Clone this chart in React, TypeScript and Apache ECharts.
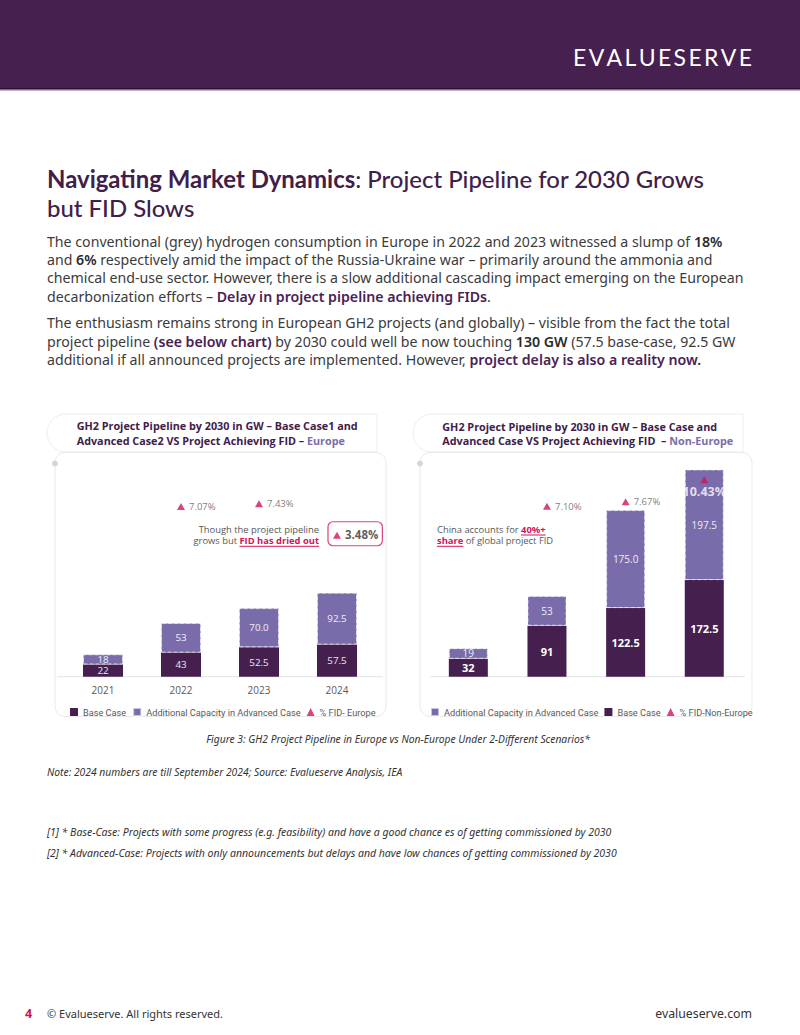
import React, { useEffect, useRef } from "react";
import * as echarts from "echarts";

// Pipeline by 2030 (GW) per year, Europe and Non-Europe; label strings keep their printed precision
const years = ["2021", "2022", "2023", "2024"];
const europeBase = ["22", "43", "52.5", "57.5"];
const europeAdditional = ["18", "53", "70.0", "92.5"];
const europeFid: (number | null)[] = [null, 7.07, 7.43, 3.48];
const nonEuropeBase = ["32", "91", "122.5", "172.5"];
const nonEuropeAdditional = ["19", "53", "175.0", "197.5"];
const nonEuropeFid: (number | null)[] = [null, 7.1, 7.67, 10.43];

const BASE = "#45204f";
const ADD = "#7a6cab";
const PINK = "#d1145a";
const GREY = "#595959";
const BODY = "#3b3b3b";
const CHART_FONT = "Open Sans";
const LEGEND_FONT = "Roboto";
const BODY_FONT = "Noto Sans";
const TITLE_FONT = "Lato";

const ctx = typeof document !== "undefined" ? document.createElement("canvas").getContext("2d") : null;
const measure = (text: string, font: string) => {
  if (!ctx) return text.length * 6;
  ctx.font = font;
  return ctx.measureText(text).width;
};

const bodyLines: [string, string][][] = [
  [["n", "The conventional (grey) hydrogen consumption in Europe in 2022 and 2023 witnessed a slump of "], ["s", "18%"]],
  [["n", "and "], ["s", "6%"], ["n", " respectively amid the impact of the Russia-Ukraine war – primarily around the ammonia and"]],
  [["n", "chemical end-use sector. However, there is a slow additional cascading impact emerging on the European"]],
  [["n", "decarbonization efforts – "], ["p", "Delay in project pipeline achieving FIDs"], ["n", "."]],
  [["n", "The enthusiasm remains strong in European GH2 projects (and globally) – visible from the fact the total"]],
  [["n", "project pipeline "], ["p", "(see below chart)"], ["n", " by 2030 could well be now touching "], ["s", "130 GW"], ["n", " (57.5 base-case, 92.5 GW"]],
  [["n", "additional if all announced projects are implemented. However, "], ["p", "project delay is also a reality now."]],
];
const bodyY = [241, 259.3, 277.6, 296, 322.5, 341, 359.5];

const LOGO = "EVALUESERVE";

export default function App() {
  const ref = useRef<HTMLDivElement>(null);

  useEffect(() => {
    if (!ref.current) return;
    const chart = echarts.init(ref.current, null, { renderer: "svg" });

    // body size fitted so the widest paragraph line fills the text column
    const bodySize = Math.min(15, (14 * 697) / measure(bodyLines[2][0][1], `14px "${BODY_FONT}"`));
    const esc = (s: string) => s.replace(/[{}|]/g, "");

    const bodyTexts = bodyLines.map((segs, i) => ({
      type: "text",
      x: 47,
      y: bodyY[i],
      style: {
        text: segs.map(([k, t]) => `{${k}|${esc(t)}}`).join(""),
        verticalAlign: "middle",
        align: "left",
        rich: {
          n: { fontFamily: BODY_FONT, fontSize: bodySize, fill: BODY },
          s: { fontFamily: BODY_FONT, fontSize: bodySize, fill: "#2a2a2a", fontWeight: 600 },
          p: { fontFamily: BODY_FONT, fontSize: bodySize, fill: "#4a2155", fontWeight: 600 },
        },
      },
    }));

    // title size fitted to the first title line
    const t1 = "Navigating Market Dynamics";
    const t2 = ": Project Pipeline for 2030 Grows";
    const tw = measure(t1, `bold 26px "${TITLE_FONT}"`) + measure(t2, `500 26px "${TITLE_FONT}"`);
    const titleSize = (26 * 658) / tw;

    // spaced wordmark spanning 573..752
    const logoFont = `23px "${TITLE_FONT}"`;
    const letterW = LOGO.split("").map((c) => measure(c, logoFont));
    const logoGap = (179 - letterW.reduce((a, b) => a + b, 0)) / (LOGO.length - 1);
    let lx = 573;
    const logoLetters = LOGO.split("").map((c, i) => {
      const el = {
        type: "text",
        x: lx,
        y: 57,
        style: { text: c, fill: "#ffffff", font: logoFont, align: "left", verticalAlign: "middle" },
      };
      lx += letterW[i] + logoGap;
      return el;
    });

    // annotation underline geometry
    const ANN = 9.4;
    const annFont = `${ANN}px "${CHART_FONT}"`;
    const annBold = `bold ${ANN}px "${CHART_FONT}"`;
    const euRight = 319;
    const driedW = measure("FID has dried out", annBold);
    const chinaX = 437;
    const chinaW = measure("China accounts for ", annFont);
    const fortyW = measure("40%+", annBold);
    const shareW = measure("share", annBold);
    const annRich = {
      n: { fontFamily: CHART_FONT, fontSize: ANN, fill: GREY },
      p: { fontFamily: CHART_FONT, fontSize: ANN, fontWeight: "bold", fill: PINK },
    };

    const card = (tx: number, cx: number, cw: number) => [
      {
        type: "rect",
        shape: { x: tx, y: 414, width: 330, height: 38, r: [19, 0, 0, 19] },
        style: { fill: "none", stroke: "#ededed", lineWidth: 1 },
      },
      {
        type: "rect",
        shape: { x: cx, y: 452.5, width: cw, height: 264, r: 10 },
        style: { fill: "#ffffff", stroke: "#e9e9e9", lineWidth: 1 },
      },
      { type: "circle", shape: { cx: cx, cy: 463.5, r: 3 }, style: { fill: "#d6d6d6" } },
    ];

    const barLabel = (strs: string[], color: string, bold: boolean, size: number) => ({
      show: true,
      position: "inside",
      color,
      fontSize: size,
      lineHeight: size - 1,
      fontWeight: bold ? "bold" : "normal",
      fontFamily: CHART_FONT,
      formatter: (p: any) => strs[p.dataIndex],
    });

    const fidLabel = {
      show: true,
      position: "right",
      distance: 4,
      color: GREY,
      fontSize: 9.5,
      fontFamily: CHART_FONT,
      formatter: (p: any) => `${Number(p.value).toFixed(2)}%`,
    };

    const europeFidData = europeFid.map((v, i) =>
      v == null
        ? "-"
        : i === europeFid.length - 1
        ? {
            value: v,
            label: {
              position: [-5, -10],
              align: "left",
              verticalAlign: "top",
              color: "#333333",
              fontWeight: "bold",
              fontSize: 11.5,
              lineHeight: 15,
              padding: [5, 4, 4, 17],
              borderColor: PINK,
              borderWidth: 1.2,
              borderRadius: 5,
            },
          }
        : v
    );
    const nonEuropeFidData = nonEuropeFid.map((v, i) =>
      v == null
        ? "-"
        : i === nonEuropeFid.length - 1
        ? {
            value: v,
            label: { position: "bottom", distance: 2, color: "#ffffff", fontWeight: "bold", fontSize: 12.5 },
          }
        : v
    );

    const legendText = { color: GREY, fontSize: 9.2, fontFamily: LEGEND_FONT };

    chart.setOption({
      animation: false,
      textStyle: { fontFamily: CHART_FONT },
      grid: [
        { left: 64, top: 452.7, width: 312, height: 224 },
        { left: 429, top: 452.7, width: 314.6, height: 224 },
      ],
      xAxis: [
        {
          type: "category",
          gridIndex: 0,
          data: years,
          axisLine: { show: false },
          axisTick: { show: false },
          axisLabel: { color: GREY, fontSize: 10, margin: 8, fontFamily: CHART_FONT },
        },
        {
          type: "category",
          gridIndex: 1,
          data: years,
          axisLine: { show: false },
          axisTick: { show: false },
          axisLabel: { show: false },
        },
      ],
      yAxis: [
        { type: "value", gridIndex: 0, min: 0, max: 400, show: false, splitLine: { show: false } },
        { type: "value", gridIndex: 0, min: -14.2, max: 13.8, show: false, splitLine: { show: false } },
        { type: "value", gridIndex: 1, min: 0, max: 400, show: false, splitLine: { show: false } },
        { type: "value", gridIndex: 1, min: -14.2, max: 13.8, show: false, splitLine: { show: false } },
      ],
      legend: [
        {
          left: 65,
          top: 702,
          itemWidth: 8,
          itemHeight: 8,
          itemGap: 6,
          textStyle: legendText,
          data: [
            { name: "Base Case", icon: "rect" },
            { name: "Additional Capacity in Advanced Case", icon: "rect" },
            { name: "% FID- Europe", icon: "triangle" },
          ],
        },
        {
          left: 425,
          top: 702,
          itemWidth: 8,
          itemHeight: 8,
          itemGap: 6,
          textStyle: legendText,
          data: [
            { name: "Additional Capacity in Advanced Case", icon: "rect" },
            { name: "Base Case", icon: "rect" },
            { name: "% FID-Non-Europe", icon: "triangle" },
          ],
        },
      ],
      series: [
        {
          name: "Base Case",
          type: "bar",
          xAxisIndex: 0,
          yAxisIndex: 0,
          stack: "eu",
          barWidth: 40,
          data: europeBase.map(Number),
          itemStyle: { color: BASE },
          label: barLabel(europeBase, "#ece4f0", false, 9.8),
        },
        {
          name: "Additional Capacity in Advanced Case",
          type: "bar",
          xAxisIndex: 0,
          yAxisIndex: 0,
          stack: "eu",
          barWidth: 40,
          data: europeAdditional.map(Number),
          itemStyle: { color: ADD, borderColor: "rgba(255,255,255,0.6)", borderWidth: 1, borderType: "dashed" },
          label: barLabel(europeAdditional, "#f1eef8", false, 9.8),
        },
        {
          name: "% FID- Europe",
          type: "scatter",
          xAxisIndex: 0,
          yAxisIndex: 1,
          symbol: "triangle",
          symbolSize: [8, 7],
          itemStyle: { color: PINK },
          label: fidLabel,
          data: europeFidData,
          z: 5,
        },
        {
          name: "Base Case",
          type: "bar",
          xAxisIndex: 1,
          yAxisIndex: 2,
          stack: "ne",
          barWidth: 39,
          data: nonEuropeBase.map(Number),
          itemStyle: { color: BASE },
          label: barLabel(nonEuropeBase, "#ffffff", true, 11),
        },
        {
          name: "Additional Capacity in Advanced Case",
          type: "bar",
          xAxisIndex: 1,
          yAxisIndex: 2,
          stack: "ne",
          barWidth: 39,
          data: nonEuropeAdditional.map(Number),
          itemStyle: { color: ADD, borderColor: "rgba(255,255,255,0.6)", borderWidth: 1, borderType: "dashed" },
          label: barLabel(nonEuropeAdditional, "#eeebf6", false, 10),
        },
        {
          name: "% FID-Non-Europe",
          type: "scatter",
          xAxisIndex: 1,
          yAxisIndex: 3,
          symbol: "triangle",
          symbolSize: [8, 7],
          itemStyle: { color: PINK },
          label: fidLabel,
          data: nonEuropeFidData,
          z: 5,
        },
      ],
      graphic: [
        // page header band
        { type: "rect", shape: { x: 0, y: 0, width: 800, height: 88 }, style: { fill: "#46204e" } },
        { type: "rect", shape: { x: 0, y: 88, width: 800, height: 1 }, style: { fill: "#2c0f33" } },
        { type: "rect", shape: { x: 0, y: 89, width: 800, height: 1.5 }, style: { fill: "#86688f" } },
        ...logoLetters,
        // heading
        {
          type: "text",
          x: 47,
          y: 178,
          style: {
            text: `{b|${t1}}{r|${t2}}`,
            verticalAlign: "middle",
            rich: {
              b: { fontFamily: TITLE_FONT, fontSize: titleSize, fontWeight: "bold", fill: "#40204a" },
              r: { fontFamily: TITLE_FONT, fontSize: titleSize, fontWeight: 500, fill: "#40204a" },
            },
          },
        },
        {
          type: "text",
          x: 47,
          y: 207,
          style: {
            text: "but FID Slows",
            verticalAlign: "middle",
            fontFamily: TITLE_FONT,
            fontSize: titleSize,
            fontWeight: 500,
            fill: "#40204a",
          },
        },
        ...bodyTexts,
        // chart cards
        ...card(47, 55, 331),
        ...card(413, 420, 332),
        {
          type: "text",
          x: 76.7,
          y: 433,
          style: {
            text: "{a|GH2 Project Pipeline by 2030 in GW – Base Case1 and}\n{a|Advanced Case2 VS Project Achieving FID – }{b|Europe}",
            verticalAlign: "middle",
            rich: {
              a: { fontFamily: CHART_FONT, fontSize: 10.8, fontWeight: "bold", fill: "#40204a", lineHeight: 14.5 },
              b: { fontFamily: CHART_FONT, fontSize: 10.8, fontWeight: "bold", fill: "#7a6cab", lineHeight: 14.5 },
            },
          },
        },
        {
          type: "text",
          x: 442.3,
          y: 433.5,
          style: {
            text: "{a|GH2 Project Pipeline by 2030 in GW – Base Case and}\n{a|Advanced Case VS Project Achieving FID  – }{b|Non-Europe}",
            verticalAlign: "middle",
            rich: {
              a: { fontFamily: CHART_FONT, fontSize: 10.8, fontWeight: "bold", fill: "#40204a", lineHeight: 14.5 },
              b: { fontFamily: CHART_FONT, fontSize: 10.8, fontWeight: "bold", fill: "#7a6cab", lineHeight: 14.5 },
            },
          },
        },
        // baselines
        { type: "line", shape: { x1: 57, y1: 676.7, x2: 383, y2: 676.7 }, style: { stroke: "#e4e4e4", lineWidth: 1 } },
        { type: "line", shape: { x1: 430, y1: 676.7, x2: 745, y2: 676.7 }, style: { stroke: "#e4e4e4", lineWidth: 1 } },
        // annotations
        {
          type: "text",
          x: euRight,
          y: 529.5,
          style: { text: "Though the project pipeline", fill: GREY, font: annFont, align: "right", verticalAlign: "middle" },
        },
        {
          type: "text",
          x: euRight,
          y: 540.8,
          style: { text: "{n|grows but }{p|FID has dried out}", align: "right", verticalAlign: "middle", rich: annRich },
        },
        {
          type: "line",
          shape: { x1: euRight - driedW, y1: 546.3, x2: euRight, y2: 546.3 },
          style: { stroke: PINK, lineWidth: 1 },
        },
        {
          type: "text",
          x: chinaX,
          y: 529.5,
          style: { text: "{n|China accounts for }{p|40%+}", align: "left", verticalAlign: "middle", rich: annRich },
        },
        {
          type: "line",
          shape: { x1: chinaX + chinaW, y1: 535, x2: chinaX + chinaW + fortyW, y2: 535 },
          style: { stroke: PINK, lineWidth: 1 },
        },
        {
          type: "text",
          x: chinaX,
          y: 540.8,
          style: { text: "{p|share}{n| of global project FID}", align: "left", verticalAlign: "middle", rich: annRich },
        },
        {
          type: "line",
          shape: { x1: chinaX, y1: 546.3, x2: chinaX + shareW, y2: 546.3 },
          style: { stroke: PINK, lineWidth: 1 },
        },
        // caption, notes, footnotes
        {
          type: "text",
          x: 398,
          y: 739,
          style: {
            text: "Figure 3: GH2 Project Pipeline in Europe vs Non-Europe Under 2-Different Scenarios*",
            fill: "#333333",
            fontFamily: BODY_FONT,
            fontStyle: "italic",
            fontSize: 10.3,
            align: "center",
            verticalAlign: "middle",
          },
        },
        {
          type: "text",
          x: 47,
          y: 772,
          style: {
            text: "Note: 2024 numbers are till September 2024; Source: Evalueserve Analysis, IEA",
            fill: "#333333",
            fontFamily: BODY_FONT,
            fontStyle: "italic",
            fontSize: 10.3,
            verticalAlign: "middle",
          },
        },
        {
          type: "text",
          x: 47,
          y: 832,
          style: {
            text: "[1] * Base-Case: Projects with some progress (e.g. feasibility) and have a good chance es of getting commissioned by 2030",
            fill: "#333333",
            fontFamily: BODY_FONT,
            fontStyle: "italic",
            fontSize: 10.5,
            verticalAlign: "middle",
          },
        },
        {
          type: "text",
          x: 47,
          y: 853,
          style: {
            text: "[2] * Advanced-Case: Projects with only announcements but delays and have low chances of getting commissioned by 2030",
            fill: "#333333",
            fontFamily: BODY_FONT,
            fontStyle: "italic",
            fontSize: 10.5,
            verticalAlign: "middle",
          },
        },
        // footer
        {
          type: "text",
          x: 25,
          y: 1013,
          style: { text: "4", fill: PINK, fontFamily: BODY_FONT, fontWeight: "bold", fontSize: 12.5, verticalAlign: "middle" },
        },
        {
          type: "text",
          x: 47,
          y: 1013,
          style: {
            text: "© Evalueserve. All rights reserved.",
            fill: "#333333",
            fontFamily: BODY_FONT,
            fontSize: 11,
            verticalAlign: "middle",
          },
        },
        {
          type: "text",
          x: 752,
          y: 1013,
          style: {
            text: "evalueserve.com",
            fill: "#333333",
            fontFamily: BODY_FONT,
            fontSize: 12.3,
            align: "right",
            verticalAlign: "middle",
          },
        },
      ],
    });

    return () => chart.dispose();
  }, []);

  return (
    <div
      ref={ref}
      style={{ position: "absolute", left: 0, top: 0, width: 800, height: 1035, background: "#ffffff" }}
    />
  );
}
